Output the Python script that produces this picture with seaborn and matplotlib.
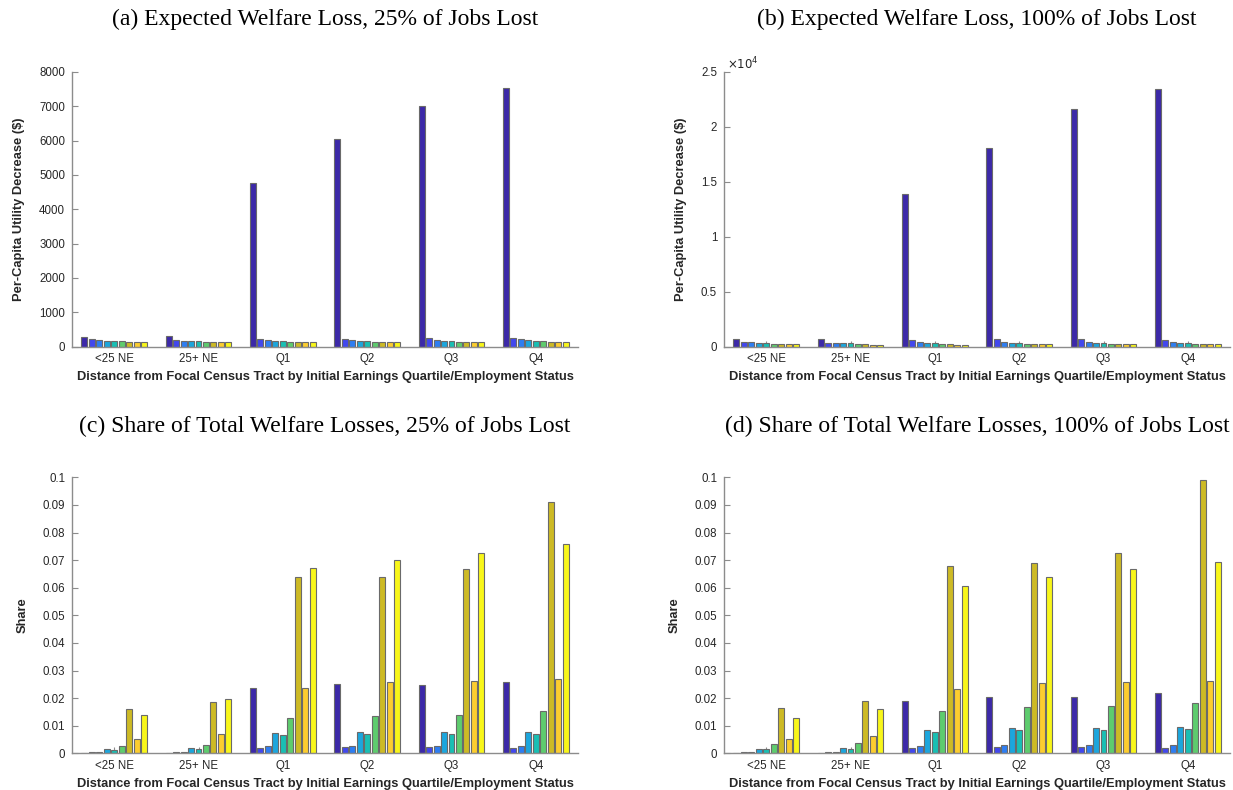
import numpy as np
import pandas as pd
import matplotlib
matplotlib.use("Agg")
import matplotlib.pyplot as plt
import seaborn as sns
from matplotlib.ticker import FuncFormatter

groups = ["<25 NE", "25+ NE", "Q1", "Q2", "Q3", "Q4"]
bins = ["d1", "d2", "d3", "d4", "d5", "d6", "d7", "d8", "d9"]
colors = ["#3c29a8", "#4248ee", "#2e7ef2", "#1ca6dd", "#19bfb4",
          "#5ecc6e", "#cdba25", "#fccd2f", "#f8f61a"]

loss25 = {
    "<25 NE": [280, 210, 195, 160, 160, 155, 135, 125, 125],
    "25+ NE": [320, 180, 170, 160, 155, 130, 130, 125, 125],
    "Q1": [4760, 220, 185, 160, 155, 135, 135, 125, 125],
    "Q2": [6050, 230, 200, 170, 165, 130, 130, 120, 120],
    "Q3": [7020, 240, 200, 170, 160, 130, 130, 120, 120],
    "Q4": [7540, 245, 205, 180, 155, 155, 125, 120, 120],
}
loss100 = {
    "<25 NE": [640, 450, 440, 360, 350, 260, 250, 200, 200],
    "25+ NE": [660, 350, 330, 300, 280, 230, 210, 170, 160],
    "Q1": [13900, 600, 440, 360, 320, 260, 220, 160, 150],
    "Q2": [18050, 640, 430, 340, 330, 270, 250, 210, 200],
    "Q3": [21600, 660, 430, 340, 320, 270, 250, 200, 190],
    "Q4": [23450, 620, 430, 350, 320, 260, 250, 200, 190],
}
share25 = {
    "<25 NE": [0.0001, 0.0005, 0.0004, 0.0015, 0.0013, 0.0027, 0.0160, 0.0053, 0.0138],
    "25+ NE": [0.0001, 0.0003, 0.0004, 0.0018, 0.0016, 0.0030, 0.0185, 0.0070, 0.0197],
    "Q1": [0.0236, 0.0019, 0.0026, 0.0072, 0.0065, 0.0128, 0.0638, 0.0238, 0.0671],
    "Q2": [0.0250, 0.0022, 0.0028, 0.0078, 0.0069, 0.0134, 0.0638, 0.0257, 0.0701],
    "Q3": [0.0249, 0.0022, 0.0026, 0.0076, 0.0069, 0.0138, 0.0667, 0.0262, 0.0727],
    "Q4": [0.0260, 0.0018, 0.0025, 0.0076, 0.0071, 0.0152, 0.0912, 0.0270, 0.0758],
}
share100 = {
    "<25 NE": [0.0001, 0.0003, 0.0004, 0.0015, 0.0015, 0.0033, 0.0164, 0.0053, 0.0127],
    "25+ NE": [0.0001, 0.0003, 0.0004, 0.0018, 0.0016, 0.0036, 0.0188, 0.0062, 0.0160],
    "Q1": [0.0191, 0.0018, 0.0026, 0.0083, 0.0078, 0.0153, 0.0679, 0.0232, 0.0605],
    "Q2": [0.0203, 0.0022, 0.0029, 0.0091, 0.0085, 0.0167, 0.0689, 0.0256, 0.0638],
    "Q3": [0.0205, 0.0022, 0.0029, 0.0091, 0.0085, 0.0170, 0.0725, 0.0258, 0.0667],
    "Q4": [0.0217, 0.0018, 0.0029, 0.0094, 0.0087, 0.0183, 0.0990, 0.0261, 0.0692],
}

titles = ["(a) Expected Welfare Loss, 25% of Jobs Lost",
          "(b) Expected Welfare Loss, 100% of Jobs Lost",
          "(c) Share of Total Welfare Losses, 25% of Jobs Lost",
          "(d) Share of Total Welfare Losses, 100% of Jobs Lost"]
xlabel = "Distance from Focal Census Tract by Initial Earnings Quartile/Employment Status"
ylabels = ["Per-Capita Utility Decrease (\\$)", "Per-Capita Utility Decrease (\\$)", "Share", "Share"]


def to_long(d):
    rows = []
    for g in groups:
        for b, v in zip(bins, d[g]):
            rows.append({"group": g, "bin": b, "value": v})
    return pd.DataFrame(rows)


sns.set_theme(style="white")
plt.rcParams["font.family"] = ["Liberation Sans", "DejaVu Sans"]

W, H = 1233, 790
fig = plt.figure(figsize=(W / 100, H / 100), dpi=100)

axes_px = [
    (72, 72, 506, 274.5),
    (724, 72, 506, 274.5),
    (72, 477.3, 506, 276),
    (724, 477.3, 506, 276),
]
datasets = [loss25, loss100, share25, share100]
ylims = [(0, 8000), (0, 25000), (0, 0.1), (0, 0.1)]
yticks = [np.arange(0, 8001, 1000), np.arange(0, 25001, 5000),
          np.round(np.arange(0, 0.1001, 0.01), 2), np.round(np.arange(0, 0.1001, 0.01), 2)]

axis_col = "#8c8c8c"
text_col = "#262626"

for i, (x0, y0, w, h) in enumerate(axes_px):
    ax = fig.add_axes([x0 / W, 1 - (y0 + h) / H, w / W, h / H])
    df = to_long(datasets[i])
    sns.barplot(data=df, x="group", y="value", hue="bin", order=groups,
                hue_order=bins, palette=colors, saturation=1, width=0.8, gap=0.2,
                edgecolor="#6a6a6a", linewidth=0.8, errorbar=None,
                legend=False, ax=ax, zorder=2)
    ax.set_xlim(-0.5, 5.5)
    ax.set_ylim(*ylims[i])
    ax.set_yticks(yticks[i])
    if i == 1:
        ax.yaxis.set_major_formatter(FuncFormatter(lambda v, p: f"{v/1e4:g}"))
        ax.text(0.005, 1.0, r"$\times10^{4}$", transform=ax.transAxes,
                fontsize=8.5, color=text_col, ha="left", va="bottom")
    elif i >= 2:
        ax.yaxis.set_major_formatter(FuncFormatter(lambda v, p: f"{v:g}"))
    for s in ["top", "right"]:
        ax.spines[s].set_visible(False)
    for s in ["left", "bottom"]:
        ax.spines[s].set_color(axis_col)
        ax.spines[s].set_linewidth(1.0)
    ax.tick_params(axis="both", direction="in", length=4, width=0.8,
                   colors=axis_col, labelcolor=text_col, labelsize=8.3,
                   left=True, bottom=True, pad=5)
    ax.set_xlabel(xlabel, fontsize=9.3, fontweight="bold", color=text_col, labelpad=4)
    ax.set_ylabel(ylabels[i], fontsize=9.3, fontweight="bold", color=text_col, labelpad=10)
    ty = 19 if i < 2 else 426
    fig.text((x0 + w / 2) / W, 1 - ty / H, titles[i], ha="center", va="center",
             fontsize=17, family=["Liberation Serif", "DejaVu Serif"], color="black")

fig.savefig("out.png", dpi=100)
